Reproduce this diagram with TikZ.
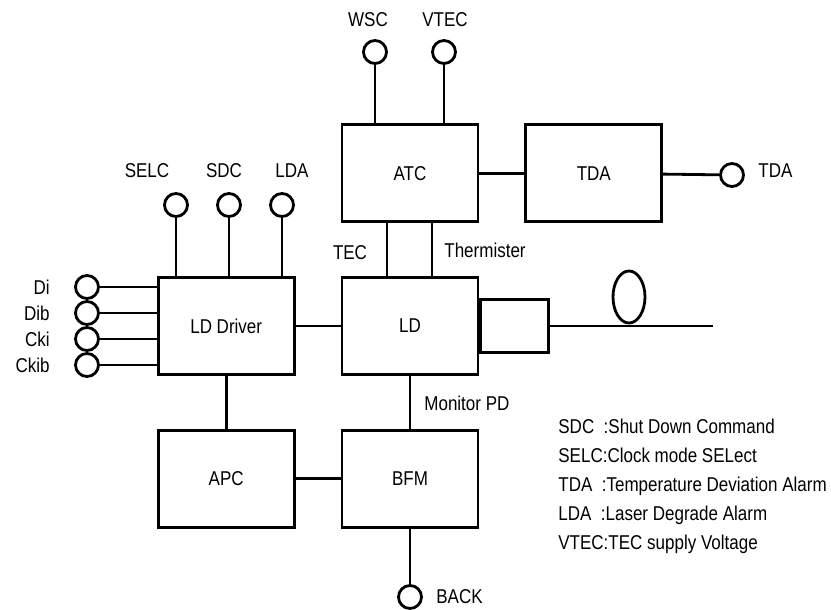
\documentclass[tikz,border=0pt]{standalone}
\usepackage{fontspec}
\setmainfont[FakeStretch=0.85]{Liberation Sans}
\usepackage{tikz}
\usetikzlibrary{positioning,shapes.geometric}

\begin{document}
\begin{tikzpicture}[
  x=1pt, y=-1pt,
  node distance=53pt and 45pt,
  line width=2.8pt,
  box/.style={draw, minimum width=136pt, minimum height=97pt, font=\fontsize{20}{22}\selectfont},
  term/.style={draw, circle, minimum size=23pt, inner sep=0pt},
  lbl/.style={font=\fontsize{20}{22}\selectfont, inner sep=0pt}
]
\useasboundingbox (0,0) rectangle (831,610);
\node[box] (ld) at (410,326) {LD};
\node[box, left=of ld] (drv) {LD Driver};
\node[box, above=of ld] (atc) {ATC};
\node[box, right=of atc] (tda) {TDA};
\node[box, below=of ld] (bfm) {BFM};
\node[box, below=of drv] (apc) {APC};
\node[draw, minimum width=68pt, minimum height=53pt, anchor=west] (mod) at (ld.east) {};
\node[draw, ellipse, minimum width=32pt, minimum height=52pt, inner sep=0pt] (loop) at (629,297) {};
\coordinate (fib) at (713,326);

\node[term] (wsc) at (375,52) {};
\node[term] (vtec) at (444,52) {};
\node[term] (tdaout) at (732,175) {};
\node[term] (selc) at (176,205) {};
\node[term] (sdc) at (229,205) {};
\node[term] (lda) at (282,205) {};
\node[term] (di) at (87,287) {};
\node[term] (dib) at (87,313) {};
\node[term] (cki) at (87,339) {};
\node[term] (ckib) at (87,365) {};
\node[term] (back) at (410,597) {};

\node[lbl] (wscl) at (368,20) {WSC};
\node[lbl] (vtecl) at (445,20) {VTEC};
\node[lbl, anchor=west] (tdal) at (757,171) {TDA};
\node[lbl] (selcl) at (147,171) {SELC};
\node[lbl] (sdcl) at (224,171) {SDC};
\node[lbl] (ldal) at (292,171) {LDA};
\node[lbl, anchor=east] (dil) at (51,287) {Di};
\node[lbl, anchor=east] (dibl) at (51,313) {Dib};
\node[lbl, anchor=east] (ckil) at (51,339) {Cki};
\node[lbl, anchor=east] (ckibl) at (51,365) {Ckib};
\node[lbl] (tecl) at (350,253) {TEC};
\node[lbl, anchor=west] (thl) at (443,250) {Thermister};
\node[lbl, anchor=west] (monl) at (423,403) {Monitor PD};
\node[lbl, anchor=west] (backl) at (435,597) {BACK};
\node[lbl, anchor=north west, align=left, font=\fontsize{20}{29}\selectfont] (legend) at (557,418)
  {SDC\ \ :Shut Down Command\\SELC:Clock mode SELect\\TDA\ \ :Temperature Deviation Alarm\\LDA\ \ :Laser Degrade Alarm\\VTEC:TEC supply Voltage};

\draw (drv) -- (ld);
\draw (atc) -- (tda);
\draw (tda) -- (tdaout);
\draw (apc) -- (bfm);
\draw (drv) -- (apc);
\draw (ld) -- (bfm);
\draw (bfm) -- (back);
\draw (mod) -- (fib);
\draw ([xshift=-23pt]atc.south) -- ([xshift=-23pt]ld.north);
\draw ([xshift=22pt]atc.south) -- ([xshift=22pt]ld.north);
\draw (wsc) -- (wsc |- atc.north);
\draw (vtec) -- (vtec |- atc.north);
\draw (selc) -- (selc |- drv.north);
\draw (sdc) -- (sdc |- drv.north);
\draw (lda) -- (lda |- drv.north);
\draw (di) -- (di -| drv.west);
\draw (dib) -- (dib -| drv.west);
\draw (cki) -- (cki -| drv.west);
\draw (ckib) -- (ckib -| drv.west);
\end{tikzpicture}
\end{document}
